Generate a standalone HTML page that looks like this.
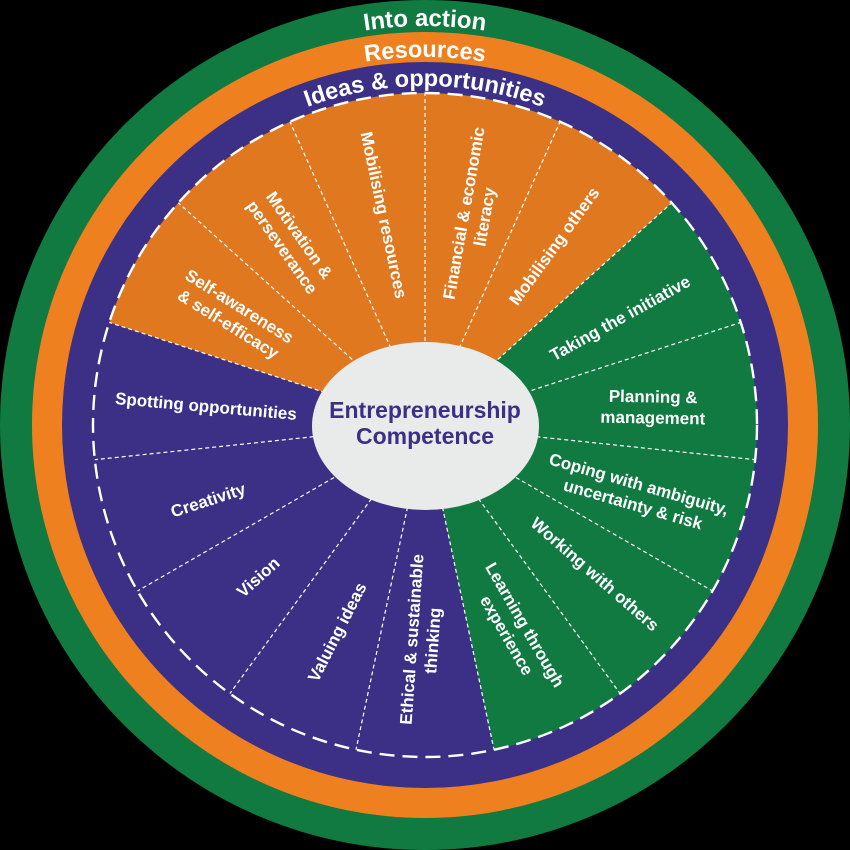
<!DOCTYPE html>
<html>
<head>
<meta charset="utf-8">
<style>
  html,body{margin:0;padding:0;background:#000;}
  svg{display:block;}
  text{font-family:"Liberation Sans",Arial,sans-serif;font-weight:bold;}
</style>
</head>
<body>
<svg width="850" height="850" viewBox="0 0 850 850" xmlns="http://www.w3.org/2000/svg">
  <defs>
    <path id="arc1" d="M 26 425 A 399 399 0 0 1 824 425"/>
    <path id="arc2" d="M 57 425 A 368 368 0 0 1 793 425"/>
    <path id="arc3" d="M 86 425 A 339 339 0 0 1 764 425"/>
  </defs>
  <rect x="0" y="0" width="850" height="850" fill="#000"/>
  <circle cx="425" cy="425" r="425" fill="#107a40"/>
  <circle cx="425" cy="425" r="393" fill="#ef801f"/>
  <circle cx="425" cy="425" r="363" fill="#3b3086"/>

  <!-- ring labels -->
  <text font-size="24" fill="#fff" text-anchor="middle"><textPath href="#arc1" startOffset="50%">Into action</textPath></text>
  <text font-size="23.5" fill="#fff" text-anchor="middle"><textPath href="#arc2" startOffset="50%">Resources</textPath></text>
  <text font-size="23.5" fill="#fff" text-anchor="middle"><textPath href="#arc3" startOffset="50%">Ideas &amp; opportunities</textPath></text>

  <!-- sectors -->
  <path d="M425 425 L671.72 202.85 A332 332 0 0 0 109.25 322.41 Z" fill="#e0781f"/>
  <path d="M425 425 L671.72 202.85 A332 332 0 0 1 494.03 749.74 Z" fill="#107a40"/>

  <!-- outer dashed circle -->
  <circle cx="425" cy="425" r="332" fill="none" stroke="#fff" stroke-width="2.4" stroke-dasharray="15 8"/>

  <!-- dividers -->
  <g stroke="#fff" stroke-width="1.2" stroke-dasharray="4 3" fill="none">
    <line x1="425" y1="425" x2="740.76" y2="322.41"/>
    <line x1="425" y1="425" x2="671.72" y2="202.85"/>
    <line x1="425" y1="425" x2="560.03" y2="121.72"/>
    <line x1="425" y1="425" x2="425" y2="93"/>
    <line x1="425" y1="425" x2="289.97" y2="121.72"/>
    <line x1="425" y1="425" x2="178.28" y2="202.85"/>
    <line x1="425" y1="425" x2="109.25" y2="322.41"/>
    <line x1="425" y1="425" x2="94.82" y2="459.70"/>
    <line x1="425" y1="425" x2="137.49" y2="591"/>
    <line x1="425" y1="425" x2="229.86" y2="693.59"/>
    <line x1="425" y1="425" x2="355.97" y2="749.74"/>
    <line x1="425" y1="425" x2="494.03" y2="749.74"/>
    <line x1="425" y1="425" x2="620.14" y2="693.59"/>
    <line x1="425" y1="425" x2="712.51" y2="591"/>
    <line x1="425" y1="425" x2="755.18" y2="459.70"/>
  </g>

  <!-- center ellipse -->
  <ellipse cx="425.5" cy="426" rx="113.5" ry="84" fill="#e9eaea"/>
  <text x="425" y="418" font-size="23" fill="#3b3086" text-anchor="middle">Entrepreneurship</text>
  <text x="425" y="444" font-size="23" fill="#3b3086" text-anchor="middle">Competence</text>

  <!-- segment labels -->
  <g fill="#fff" font-size="17" text-anchor="middle">
    <!-- orange -->
    <text transform="translate(234 315) rotate(32)"><tspan x="0" y="-4.5">Self-awareness</tspan><tspan x="0" y="16.5">&amp; self-efficacy</tspan></text>
    <text transform="translate(291 241) rotate(55)"><tspan x="0" y="-4.5">Motivation &amp;</tspan><tspan x="0" y="16.5">perseverance</tspan></text>
    <text transform="translate(384 215) rotate(78)" y="6">Mobilising resources</text>
    <text transform="translate(474 215) rotate(-80)"><tspan x="0" y="-4.5">Financial &amp; economic</tspan><tspan x="0" y="16.5">literacy</tspan></text>
    <text transform="translate(554 246) rotate(-54)" y="6">Mobilising others</text>
    <!-- green -->
    <text transform="translate(620 318) rotate(-29)" y="6">Taking the initiative</text>
    <text transform="translate(653 407) rotate(1)"><tspan x="0" y="-4.5">Planning &amp;</tspan><tspan x="0" y="16.5">management</tspan></text>
    <text transform="translate(636 494) rotate(16)"><tspan x="0" y="-4.5">Coping with ambiguity,</tspan><tspan x="0" y="16.5">uncertainty &amp; risk</tspan></text>
    <text transform="translate(595 574) rotate(41)" y="6">Working with others</text>
    <text transform="translate(516 630) rotate(60)"><tspan x="0" y="-4.5">Learning through</tspan><tspan x="0" y="16.5">experience</tspan></text>
    <!-- purple -->
    <text transform="translate(422 640) rotate(-86)"><tspan x="0" y="-4.5">Ethical &amp; sustainable</tspan><tspan x="0" y="16.5">thinking</tspan></text>
    <text transform="translate(337 632) rotate(-63)" y="6">Valuing ideas</text>
    <text transform="translate(258 577) rotate(-42)" y="6">Vision</text>
    <text transform="translate(208 500) rotate(-18)" y="6">Creativity</text>
    <text transform="translate(206 406) rotate(5)" y="6">Spotting opportunities</text>
  </g>
</svg>
</body>
</html>
